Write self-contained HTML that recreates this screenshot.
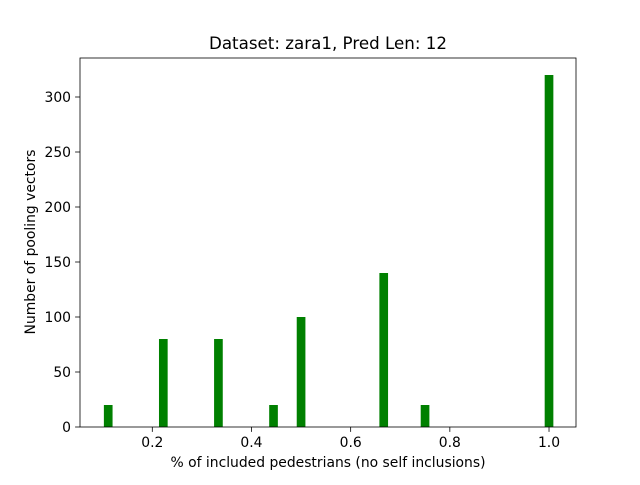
<!DOCTYPE html>
<html><head><meta charset="utf-8"><style>
body{margin:0;background:#fff}
text{font-family:"DejaVu Sans","Liberation Sans",sans-serif;fill:#000}
</style></head><body>
<svg id="c" width="640" height="480" xmlns="http://www.w3.org/2000/svg"></svg>
<script>
const categories=[1/9,2/9,1/3,4/9,0.5,2/3,0.75,1.0];
const counts=[20,80,80,20,100,140,20,320];
const xTicks=[0.2,0.4,0.6,0.8,1.0];
const xTickLabels=["0.2","0.4","0.6","0.8","1.0"];
const yTicks=[0,50,100,150,200,250,300];
const L=80,R=576,T=58,B=427;
const x=v=>152.3+(v-0.2)*495.9;
const y=v=>427-v*1.1;
const bw=0.0175*495.9;
const svg=document.getElementById('c');
const NS='http://www.w3.org/2000/svg';
function mk(t,a,p){const e=document.createElementNS(NS,t);for(const k in a)e.setAttribute(k,a[k]);(p||svg).appendChild(e);return e;}
categories.forEach((c,i)=>{
 const r=mk('rect',{x:x(c)-bw/2,y:y(counts[i]),width:bw,height:y(0)-y(counts[i]),fill:'#008000'});
 
 
});
const frame=mk('rect',{x:L,y:T,width:R-L,height:B-T,fill:'none',stroke:'#000','stroke-width':0.8});


xTicks.forEach((v,i)=>{
 mk('line',{x1:x(v),x2:x(v),y1:B,y2:B+4.9,stroke:'#000','stroke-width':0.8});
 const t=mk('text',{x:x(v),y:B+20,'text-anchor':'middle','font-size':13.9});
 t.textContent=xTickLabels[i];
 
 
});
yTicks.forEach(v=>{
 mk('line',{x1:L-4.9,x2:L,y1:y(v),y2:y(v),stroke:'#000','stroke-width':0.8});
 const t=mk('text',{x:L-9,y:y(v)+5,'text-anchor':'end','font-size':13.9});
 t.textContent=v;
 
 
});
const xt=mk('text',{x:328,y:467,'text-anchor':'middle','font-size':13.9});
xt.textContent='% of included pedestrians (no self inclusions)';


const yt=mk('text',{x:35,y:242,'text-anchor':'middle','font-size':13.9,transform:'rotate(-90 35 242)'});
yt.textContent='Number of pooling vectors';


const tt=mk('text',{x:328,y:49,'text-anchor':'middle','font-size':16.7});
tt.textContent='Dataset: zara1, Pred Len: 12';


</script>
</body></html>
